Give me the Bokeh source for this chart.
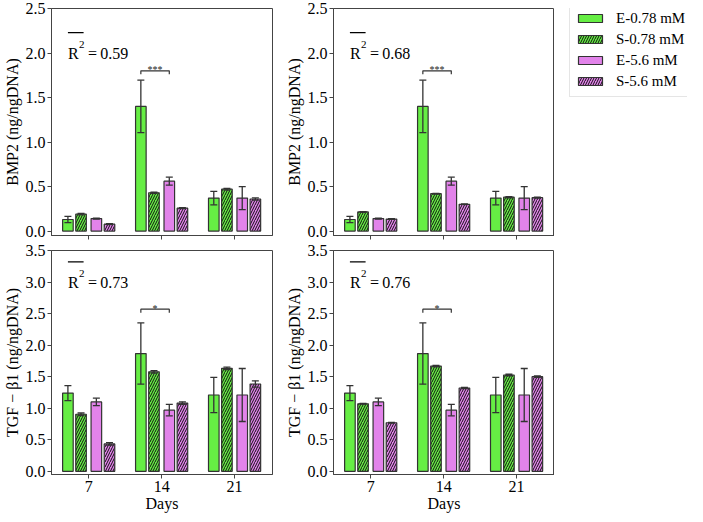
from bokeh.plotting import figure
from bokeh.models import (ColumnDataSource, Whisker, TeeHead, Legend, LegendItem,
                          FixedTicker, PrintfTickFormatter, Range1d)
from bokeh.layouts import column, row
from bokeh.embed import file_html
from bokeh.resources import INLINE
from bokeh.core.properties import value

# ---------------- data ----------------
days = ["7", "14", "21"]
series_labels = ["E-0.78 mM", "S-0.78 mM", "E-5.6 mM", "S-5.6 mM"]

# BMP2, experimental (same in both columns)
bmp2_e078 = [0.13, 1.40, 0.37]
bmp2_e078_err = [0.035, 0.295, 0.075]
bmp2_e56 = [0.14, 0.56, 0.37]
bmp2_e56_err = [0.006, 0.045, 0.13]
# BMP2, simulated (left column)
bmp2_s078_a = [0.19, 0.43, 0.47]
bmp2_s078_a_err = [0.008, 0.006, 0.01]
bmp2_s56_a = [0.077, 0.257, 0.36]
bmp2_s56_a_err = [0.005, 0.005, 0.012]
# BMP2, simulated (right column)
bmp2_s078_b = [0.215, 0.42, 0.38]
bmp2_s078_b_err = [0.004, 0.004, 0.006]
bmp2_s56_b = [0.135, 0.30, 0.375]
bmp2_s56_b_err = [0.004, 0.004, 0.005]

# TGF-b1, experimental
tgf_e078 = [1.24, 1.867, 1.21]
tgf_e078_err = [0.12, 0.485, 0.28]
tgf_e56 = [1.10, 0.97, 1.21]
tgf_e56_err = [0.06, 0.09, 0.42]
# TGF-b1, simulated (left column)
tgf_s078_a = [0.905, 1.577, 1.633]
tgf_s078_a_err = [0.02, 0.02, 0.02]
tgf_s56_a = [0.434, 1.082, 1.384]
tgf_s56_a_err = [0.02, 0.02, 0.05]
# TGF-b1, simulated (right column)
tgf_s078_b = [1.07, 1.668, 1.527]
tgf_s078_b_err = [0.006, 0.01, 0.012]
tgf_s56_b = [0.77, 1.321, 1.50]
tgf_s56_b_err = [0.006, 0.01, 0.012]

r2_values = ["0.59", "0.68", "0.73", "0.76"]
sig_marks = ["***", "***", "*", "*"]

# ---------------- style ----------------
FONT = "Liberation Serif"
GREEN = "#66ee44"
VIOLET = "#e283ea"
EDGE = "#333333"
SPINE = "#444444"
offsets = [-0.285, -0.105, 0.105, 0.285]
BAR_W = 0.145
FILLS = [GREEN, GREEN, VIOLET, VIOLET]
HATCHES = [" ", "right_diagonal_line", " ", "right_diagonal_line"]
TOP_H = 242
BOT_H = 272


def bar_style(k):
    return dict(fill_color=FILLS[k], line_color=EDGE, line_width=1.2,
                hatch_pattern=HATCHES[k], hatch_color="#111111",
                hatch_scale=5, hatch_weight=1)


def make_panel(vals, errs, ymax, ylabel, r2, sig, sig_y, sig_tick, r2_y, r2_ol,
               bottom_row, right_col):
    if bottom_row:
        h, mb_top, mb_bot = BOT_H, 8, 40
    else:
        h, mb_top, mb_bot = TOP_H, 8, 7
    w = 272 if right_col else 282
    p = figure(width=w, height=h, x_range=Range1d(-0.51, 2.52),
               y_range=Range1d(-0.05, ymax), output_backend="svg",
               toolbar_location=None, min_border_left=46,
               min_border_right=0 if right_col else 10,
               min_border_top=mb_top, min_border_bottom=mb_bot)
    p.xgrid.visible = False
    p.ygrid.visible = False
    p.outline_line_color = SPINE
    p.outline_line_width = 1
    p.background_fill_color = "white"
    p.border_fill_color = "white"

    for k in range(4):
        xs = [i + offsets[k] for i in range(len(days))]
        src = ColumnDataSource(dict(
            x=xs, top=vals[k],
            upper=[v + e for v, e in zip(vals[k], errs[k])],
            lower=[v - e for v, e in zip(vals[k], errs[k])]))
        p.vbar(x="x", top="top", width=BAR_W, bottom=0, source=src, **bar_style(k))
        wk = Whisker(source=src, base="x", upper="upper", lower="lower",
                     line_color=EDGE, line_width=1.3, level="annotation",
                     upper_head=TeeHead(size=7, line_color=EDGE, line_width=1.3),
                     lower_head=TeeHead(size=7, line_color=EDGE, line_width=1.3))
        p.add_layout(wk)

    # significance bracket between E-0.78 and E-5.6 at day 14
    xa = 1 + offsets[0]
    xb = 1 + offsets[2]
    p.multi_line(xs=[[xa, xa, xb, xb]],
                 ys=[[sig_y - sig_tick, sig_y, sig_y, sig_y - sig_tick]],
                 line_color=EDGE, line_width=1.2)
    p.text(x=[(xa + xb) / 2], y=[sig_y], text=[sig], y_offset=-1,
           text_align="center", text_baseline="alphabetic",
           text_font=value(FONT), text_font_size="10px", text_color="#222222")

    # overlined R^2 annotation
    xr = -0.285
    txt = dict(text_align="left", text_baseline="alphabetic",
               text_font=value(FONT), text_color="black")
    p.text(x=[xr], y=[r2_y], text=["R"], text_font_size="16px", **txt)
    p.text(x=[xr], y=[r2_y], text=["2"], x_offset=11, y_offset=-9,
           text_font_size="11px", **txt)
    p.text(x=[xr], y=[r2_y], text=["=\u2009" + r2],
           x_offset=20, text_font_size="16px", **txt)
    p.segment(x0=[xr], x1=[xr + 0.215], y0=[r2_ol], y1=[r2_ol],
              line_color="black", line_width=1.2)

    # axes
    step = 0.5
    ticks = [i * step for i in range(int(round(ymax / step)) + 1)]
    p.yaxis.ticker = FixedTicker(ticks=ticks)
    p.yaxis.formatter = PrintfTickFormatter(format="%.1f")
    p.xaxis.ticker = FixedTicker(ticks=list(range(len(days))))
    for ax in (p.xaxis, p.yaxis):
        ax.axis_line_color = SPINE
        ax.major_tick_line_color = SPINE
        ax.minor_tick_line_color = None
        ax.major_tick_in = 0
        ax.major_tick_out = 4
        ax.major_label_text_font = FONT
        ax.major_label_text_font_size = "16px"
        ax.major_label_text_color = "black"
        ax.axis_label_text_font = FONT
        ax.axis_label_text_font_size = "16px"
        ax.axis_label_text_font_style = "normal"
        ax.axis_label_text_color = "black"
        ax.major_label_standoff = 2
        ax.axis_label_standoff = 2
    p.yaxis.axis_label = ylabel
    if bottom_row:
        p.xaxis.major_label_overrides = {i: d for i, d in enumerate(days)}
        p.xaxis.axis_label = "Days"
        p.xaxis.axis_label_standoff = 0
    else:
        p.xaxis.major_label_overrides = {i: "" for i in range(len(days))}
        p.xaxis.major_label_text_font_size = "1px"
        p.xaxis.major_label_text_color = None
        p.xaxis.major_label_standoff = 0
    return p


def make_legend_fig(width, height, proxy_tops):
    # inverted y range: the proxy bars hang from the top of this small figure
    # and are completely hidden behind the legend box, which only shows swatches
    p = figure(width=width, height=height, x_range=Range1d(0, 1),
               y_range=Range1d(1, -0.1), output_backend="svg",
               toolbar_location=None, x_axis_type=None, y_axis_type=None,
               min_border=0)
    p.xgrid.visible = False
    p.ygrid.visible = False
    p.outline_line_color = None
    p.background_fill_color = "white"
    p.border_fill_color = "white"
    items = []
    for k in range(4):
        r = p.vbar(x=[0.5], top=[proxy_tops[k]], width=0.1, **bar_style(k))
        items.append(LegendItem(label=series_labels[k], renderers=[r]))
    legend_h = 4 * 21 - 1 + 10
    lg = Legend(items=items, location=(15, height - 11 - legend_h),
                label_text_font=FONT, label_text_font_size="15px",
                label_text_color="black",
                glyph_width=30, glyph_height=10, label_height=20,
                spacing=1, padding=5, label_standoff=11, margin=0,
                border_line_color="#cccccc", border_line_width=1,
                background_fill_color="white", background_fill_alpha=1)
    p.add_layout(lg)
    return p


p1 = make_panel([bmp2_e078, bmp2_s078_a, bmp2_e56, bmp2_s56_a],
                [bmp2_e078_err, bmp2_s078_a_err, bmp2_e56_err, bmp2_s56_a_err],
                2.5, "BMP2 (ng/ngDNA)", r2_values[0], sig_marks[0],
                1.80, 0.04, 2.0, 2.23, False, False)
p2 = make_panel([bmp2_e078, bmp2_s078_b, bmp2_e56, bmp2_s56_b],
                [bmp2_e078_err, bmp2_s078_b_err, bmp2_e56_err, bmp2_s56_b_err],
                2.5, "BMP2 (ng/ngDNA)", r2_values[1], sig_marks[1],
                1.80, 0.04, 2.0, 2.23, False, True)
p3 = make_panel([tgf_e078, tgf_s078_a, tgf_e56, tgf_s56_a],
                [tgf_e078_err, tgf_s078_a_err, tgf_e56_err, tgf_s56_a_err],
                3.5, "TGF \u2212 \u03b21 (ng/ngDNA)", r2_values[2], sig_marks[2],
                2.57, 0.055, 3.0, 3.32, True, False)
p4 = make_panel([tgf_e078, tgf_s078_b, tgf_e56, tgf_s56_b],
                [tgf_e078_err, tgf_s078_b_err, tgf_e56_err, tgf_s56_b_err],
                3.5, "TGF \u2212 \u03b21 (ng/ngDNA)", r2_values[3], sig_marks[3],
                2.57, 0.055, 3.0, 3.32, True, True)
pleg = make_legend_fig(133, TOP_H,
                       [bmp2_e078[0], bmp2_s078_a[0], bmp2_e56[0], bmp2_s56_a[0]])

layout = column(row(p1, p2, pleg), row(p3, p4))
open("out.html", "w").write(file_html(layout, INLINE))
